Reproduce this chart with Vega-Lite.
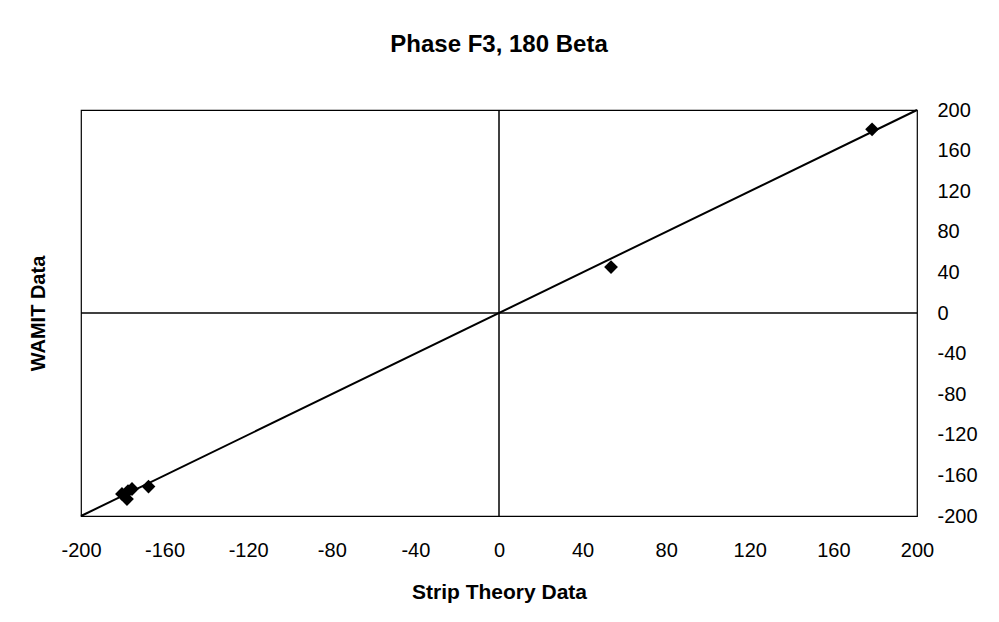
{
  "$schema": "https://vega.github.io/schema/vega-lite/v6.json",
  "width": 836,
  "height": 406,
  "autosize": "none",
  "padding": {"left": 81, "top": 110, "right": 82, "bottom": 106},
  "background": "white",
  "title": {"text": "Phase F3, 180 Beta", "font": "Liberation Sans", "fontSize": 24, "fontWeight": "bold", "color": "black", "offset": 43, "anchor": "middle"},
  "config": {
    "view": {"stroke": "black", "strokeWidth": 1.2},
    "axis": {"grid": false, "domain": false, "ticks": false, "labelFlush": false, "labelOverlap": false, "labelFont": "Liberation Sans", "labelFontSize": 20, "labelColor": "black", "titleFont": "Liberation Sans", "titleFontWeight": "bold", "titleColor": "black", "labelExpr": "'' + datum.value"}
  },
  "datasets": {
    "zero": [{"z": 0}],
    "fit": [{"strip": -200, "wamit": -200}, {"strip": 200, "wamit": 200}],
    "pts": [
      {"strip": -180.4, "wamit": -178.3},
      {"strip": -177.5, "wamit": -175.4},
      {"strip": -178.0, "wamit": -183.3},
      {"strip": -175.6, "wamit": -173.4},
      {"strip": -167.7, "wamit": -171.0},
      {"strip": 53.6, "wamit": 45.3},
      {"strip": 178.5, "wamit": 181.0}
    ]
  },
  "resolve": {"axis": {"y": "independent"}},
  "layer": [
    {
      "data": {"name": "fit"},
      "mark": {"type": "line", "color": "black", "strokeWidth": 2},
      "encoding": {
        "x": {"field": "strip", "type": "quantitative", "scale": {"domain": [-200, 200], "nice": false},
              "axis": {"orient": "bottom", "values": [-200, -160, -120, -80, -40, 0, 40, 80, 120, 160, 200], "labelPadding": 24, "title": "Strip Theory Data", "titleFontSize": 21, "titlePadding": 21}},
        "y": {"field": "wamit", "type": "quantitative", "scale": {"domain": [-200, 200], "nice": false},
              "axis": {"orient": "right", "values": [-200, -160, -120, -80, -40, 0, 40, 80, 120, 160, 200], "labelAlign": "left", "labelPadding": 20, "title": null}}
      }
    },
    {
      "data": {"name": "zero"},
      "mark": {"type": "rule", "color": "black", "strokeWidth": 1.5},
      "encoding": {"x": {"field": "z", "type": "quantitative", "title": "Strip Theory Data"}}
    },
    {
      "data": {"name": "zero"},
      "mark": {"type": "rule", "color": "black", "strokeWidth": 1.5},
      "encoding": {"y": {"field": "z", "type": "quantitative", "axis": null}}
    },
    {
      "data": {"name": "pts"},
      "mark": {"type": "point", "shape": "diamond", "filled": true, "color": "black", "size": 190, "opacity": 1},
      "encoding": {
        "x": {"field": "strip", "type": "quantitative", "title": "Strip Theory Data"},
        "y": {"field": "wamit", "type": "quantitative",
              "axis": {"orient": "left", "labels": false, "title": "WAMIT Data", "titleFontSize": 20, "titlePadding": 33}}
      }
    }
  ]
}
